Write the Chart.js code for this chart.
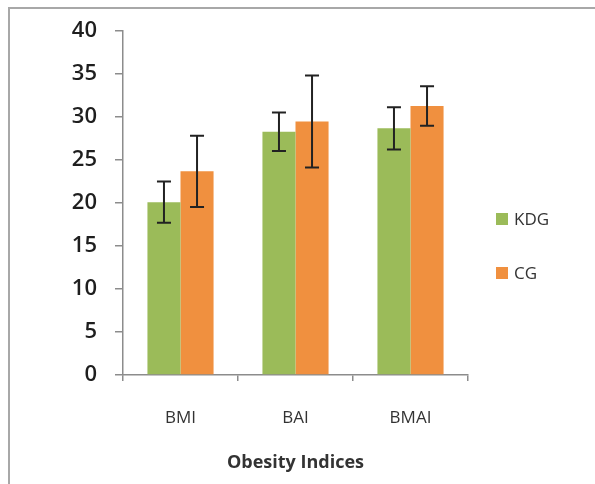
<!DOCTYPE html>
<html>
<head>
<meta charset="utf-8">
<style>
  body { margin: 0; background: #fff; }
  #wrap { position: relative; width: 595px; height: 484px; overflow: hidden; }
  #frame { position: absolute; left: 8px; top: 7px; width: 620px; height: 520px;
           border-left: 2px solid #a8a8a8; border-top: 2px solid #a8a8a8; }
</style>
</head>
<body>
<div id="wrap">
  <div id="frame"></div>
  <canvas id="myChart"></canvas>
</div>

<script src="https://cdn.jsdelivr.net/npm/chart.js"></script>
<script>
  const categories = ['BMI', 'BAI', 'BMAI'];
  const kdgValues = [20.1, 28.3, 28.7];
  const kdgErrors = [2.4, 2.25, 2.45];
  const cgValues = [23.7, 29.5, 31.3];
  const cgErrors = [4.15, 5.35, 2.3];
  const yTicks = [0, 5, 10, 15, 20, 25, 30, 35, 40];

  const green = '#9bbb59';
  const orange = '#f0903f';
  const sans = '"Open Sans", "Noto Sans", sans-serif';

  // error bars drawn with the y scale
  const errorBars = {
    id: 'errorBars',
    afterDatasetsDraw(chart) {
      const ctx = chart.ctx;
      const y = chart.scales.y;
      ctx.save();
      ctx.strokeStyle = '#222';
      ctx.lineWidth = 2;
      chart.data.datasets.forEach((ds, i) => {
        chart.getDatasetMeta(i).data.forEach((bar, j) => {
          const v = ds.data[j], e = ds.errors[j];
          const top = y.getPixelForValue(v + e);
          const bot = y.getPixelForValue(v - e);
          const x = bar.x;
          ctx.beginPath();
          ctx.moveTo(x, top); ctx.lineTo(x, bot);
          ctx.moveTo(x - 7, top); ctx.lineTo(x + 7, top);
          ctx.moveTo(x - 7, bot); ctx.lineTo(x + 7, bot);
          ctx.stroke();
        });
      });
      ctx.restore();
    }
  };

  // legend on the right like the excel one
  const sideLegend = {
    id: 'sideLegend',
    afterDraw(chart) {
      const ctx = chart.ctx;
      const x0 = chart.chartArea.right + 28;
      const rows = [219, 273];
      ctx.save();
      ctx.font = '17px ' + sans;
      ctx.textBaseline = 'middle';
      chart.data.datasets.forEach((ds, i) => {
        ctx.fillStyle = ds.backgroundColor;
        ctx.fillRect(x0, rows[i] - 6, 12, 12);
        ctx.fillStyle = '#333';
        ctx.fillText(ds.label, x0 + 18, rows[i] + 1);
      });
      ctx.restore();
    }
  };

  new Chart(document.getElementById('myChart'), {
    type: 'bar',
    data: {
      labels: categories,
      datasets: [
        { label: 'KDG', data: kdgValues, errors: kdgErrors, backgroundColor: green },
        { label: 'CG', data: cgValues, errors: cgErrors, backgroundColor: orange }
      ]
    },
    options: {
      responsive: true,
      maintainAspectRatio: false,
      animation: false,
      categoryPercentage: 0.575,
      barPercentage: 1,
      layout: { padding: { top: 30, right: 127, left: 0, bottom: 0 } },
      plugins: {
        legend: { display: false },
        tooltip: { enabled: false }
      },
      scales: {
        x: {
          afterFit(scale) { scale.height = 109; },
          grid: { drawOnChartArea: false, tickLength: 6, color: '#8c8c8c', lineWidth: 1.5 },
          border: { color: '#8c8c8c', width: 1.5 },
          ticks: { padding: 27, color: '#333', font: { family: sans, size: 17 } },
          title: {
            display: true,
            text: 'Obesity Indices',
            color: '#333',
            padding: { top: 0, bottom: 10 },
            font: { family: sans, size: 18, weight: 'bold' }
          }
        },
        y: {
          min: 0,
          max: 40,
          afterFit(scale) { scale.width = 123; },
          afterBuildTicks(scale) { scale.ticks = yTicks.map(v => ({ value: v })); },
          grid: { drawOnChartArea: false, tickLength: 8, color: '#8c8c8c', lineWidth: 1.5 },
          border: { color: '#8c8c8c', width: 1.5 },
          ticks: { padding: 18, color: '#1e1e1e', font: { family: '"Open Sans", sans-serif', size: 22, weight: '600' } }
        }
      }
    },
    plugins: [errorBars, sideLegend]
  });
</script>
</body>
</html>
